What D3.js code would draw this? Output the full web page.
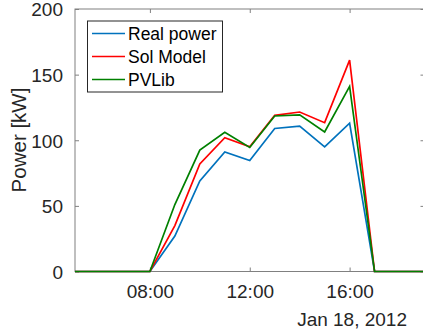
<!DOCTYPE html>
<html>
<head>
<meta charset="utf-8">
<script src="https://cdn.jsdelivr.net/npm/d3@7"></script>
<style>
  html, body { margin: 0; padding: 0; background: #fff; }
  svg { display: block; font-family: "Liberation Sans", Arial, Helvetica, sans-serif; }
</style>
</head>
<body>
<svg id="chart" width="423" height="334"></svg>
<script>
// Hourly timestamps on Jan 18, 2012 (05:00 .. 19:00)
const hours = [5, 6, 7, 8, 9, 10, 11, 12, 13, 14, 15, 16, 17, 18, 19];

// Power series [kW]
const realPower = [0, 0, 0, 0, 27, 69, 91, 84.5, 109, 110.8, 95, 113, 0, 0, 0];
const solModel  = [0, 0, 0, 0, 35, 82, 102, 95, 119, 121.5, 113.4, 161, 0, 0, 0];
const pvLib     = [0, 0, 0, 0, 51, 92.5, 106, 94.5, 118.5, 119.3, 106.3, 141, 0, 0, 0];

const seriesNames  = ["Real power", "Sol Model", "PVLib"];
const seriesColors = ["#0072BD", "#FF0000", "#008000"];
const seriesValues = [realPower, solModel, pvLib];

const yTicks = [0, 50, 100, 150, 200];
const xTickHours = [8, 12, 16];
const dateLabel = "Jan 18, 2012";

const day = h => new Date(2012, 0, 18, h, 0, 0);

const svg = d3.select("#chart");
const plotLeft = 75, plotRight = 424.5, plotTop = 9, plotBottom = 271.5;

const x = d3.scaleTime().domain([day(5), day(19)]).range([plotLeft, plotRight]);
const y = d3.scaleLinear().domain([0, 200]).range([plotBottom, plotTop]);

const axisColor = "#808080";
const textColor = "#262626";
const tickLen = 4;

// Plot frame
svg.append("rect")
  .attr("x", plotLeft).attr("y", plotTop)
  .attr("width", plotRight - plotLeft).attr("height", plotBottom - plotTop)
  .attr("fill", "none").attr("stroke", axisColor).attr("stroke-width", 1);

// Axes (ticks drawn inward)
const fmt = d3.timeFormat("%H:%M");
const xTickDates = xTickHours.map(day);

const xBottom = svg.append("g").attr("transform", `translate(0,${plotBottom})`)
  .call(d3.axisBottom(x).tickValues(xTickDates).tickFormat(fmt).tickSizeInner(-tickLen).tickSizeOuter(0).tickPadding(13));
const xTop = svg.append("g").attr("transform", `translate(0,${plotTop})`)
  .call(d3.axisTop(x).tickValues(xTickDates).tickFormat("").tickSizeInner(-tickLen).tickSizeOuter(0));
const yLeft = svg.append("g").attr("transform", `translate(${plotLeft},0)`)
  .call(d3.axisLeft(y).tickValues(yTicks).tickSizeInner(-tickLen).tickSizeOuter(0).tickPadding(12));
const yRight = svg.append("g").attr("transform", `translate(${plotRight},0)`)
  .call(d3.axisRight(y).tickValues(yTicks).tickFormat("").tickSizeInner(-tickLen).tickSizeOuter(0));

[xBottom, xTop, yLeft, yRight].forEach(g => {
  g.select(".domain").remove();
  g.selectAll(".tick line").attr("stroke", axisColor);
  g.selectAll(".tick text").attr("fill", textColor).style("font-size", "19px")
    .style("font-family", '"Liberation Sans", Arial, sans-serif');
});
yLeft.selectAll(".tick text").attr("dy", "0.36em");

// Date label under the time axis
svg.append("text")
  .attr("x", 407).attr("y", 326)
  .attr("text-anchor", "end")
  .attr("fill", textColor).style("font-size", "19px")
  .text(dateLabel);

// Y axis title
svg.append("text")
  .attr("transform", "translate(25.5,140) rotate(-90)")
  .attr("text-anchor", "middle")
  .attr("fill", textColor).style("font-size", "20.5px")
  .text("Power [kW]");

// Series lines
const line = d3.line()
  .x((d, i) => x(day(hours[i])))
  .y(d => y(d));

seriesValues.forEach((vals, k) => {
  svg.append("path")
    .datum(vals)
    .attr("d", line)
    .attr("fill", "none")
    .attr("stroke", seriesColors[k])
    .attr("stroke-width", 1.7)
    .attr("stroke-linejoin", "miter");
});

// Legend
const legend = svg.append("g");
legend.append("rect")
  .attr("x", 87.5).attr("y", 21)
  .attr("width", 135).attr("height", 71)
  .attr("fill", "#fff").attr("stroke", textColor).attr("stroke-width", 1);

seriesNames.forEach((name, k) => {
  const yy = 33.5 + k * 23;
  legend.append("line")
    .attr("x1", 92).attr("x2", 125)
    .attr("y1", yy).attr("y2", yy)
    .attr("stroke", seriesColors[k]).attr("stroke-width", 1.5);
  legend.append("text")
    .attr("x", 128).attr("y", yy)
    .attr("dy", "0.36em")
    .attr("fill", "#000").style("font-size", "17.5px")
    .text(name);
});
</script>
</body>
</html>
